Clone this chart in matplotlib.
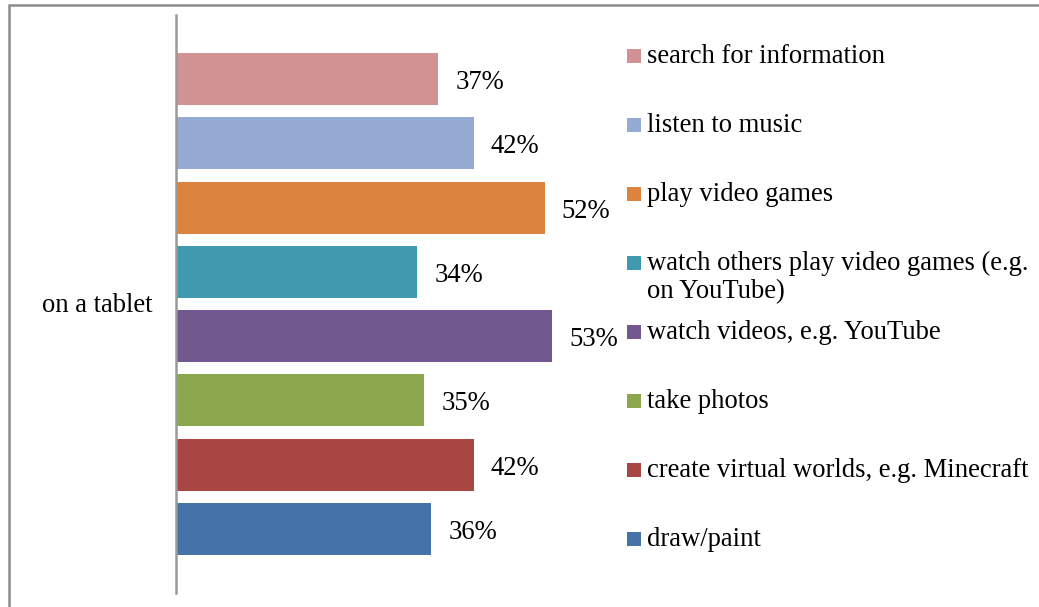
import matplotlib.pyplot as plt
from matplotlib.patches import Rectangle

plt.rcParams['font.family'] = ['Liberation Serif', 'DejaVu Serif']

category = "on a tablet"
activities = [
    "search for information",
    "listen to music",
    "play video games",
    "watch others play video games (e.g.\non YouTube)",
    "watch videos, e.g. YouTube",
    "take photos",
    "create virtual worlds, e.g. Minecraft",
    "draw/paint",
]
shares = [37, 42, 52, 34, 53, 35, 42, 36]
colors = ["#D09292", "#95AAD2", "#DC843E", "#4199AF", "#71588E",
          "#8BA64D", "#A84644", "#4573A7"]

FS = 19.2
W, H = 1039, 607
fig = plt.figure(figsize=(W / 100, H / 100), dpi=100)

# plot area in pixel units (from top-left), converted to figure fractions
left, right, top, bottom = 176, 601.5, 15, 593
ax = fig.add_axes([left / W, 1 - bottom / H, (right - left) / W, (bottom - top) / H])

ypos = list(range(len(shares)))
ax.barh(ypos, shares, height=0.81, color=colors)
for y, v in zip(ypos, shares):
    ax.text(v + 2.4, y + 0.155, f"{v}%", va="baseline", ha="left", fontsize=FS)

ax.set_xlim(0, 60)
ax.set_ylim(8.0, -1.0)
ax.set_xticks([])
ax.set_yticks([])
for side in ["top", "right", "bottom"]:
    ax.spines[side].set_visible(False)
ax.spines["left"].set_color("#999999")
ax.spines["left"].set_linewidth(1.8)

fig.text(153 / W, 1 - 312 / H, category, ha="right", va="baseline", fontsize=FS)

# legend drawn by hand: square marker + text, rows 69 px apart,
# wrapped labels continue 28 px lower per line
for i, (name, c) in enumerate(zip(activities, colors)):
    yc = 56 + 69 * i
    fig.patches.append(Rectangle((627 / W, 1 - (yc + 7) / H), 14 / W, 14 / H,
                                 transform=fig.transFigure, facecolor=c,
                                 edgecolor="none"))
    for k, line in enumerate(name.split("\n")):
        fig.text(647 / W, 1 - (yc + 7 + 28 * k) / H, line, ha="left",
                 va="baseline", fontsize=FS)

# outer chart frame (only left and top edges fall inside the image)
fig.patches.append(Rectangle((9 / W, -0.1), 1.2, 1 - 5 / H + 0.1,
                             transform=fig.transFigure, facecolor="none",
                             edgecolor="#8C8C8C", linewidth=1.8))

fig.savefig("out.png", dpi=100)
